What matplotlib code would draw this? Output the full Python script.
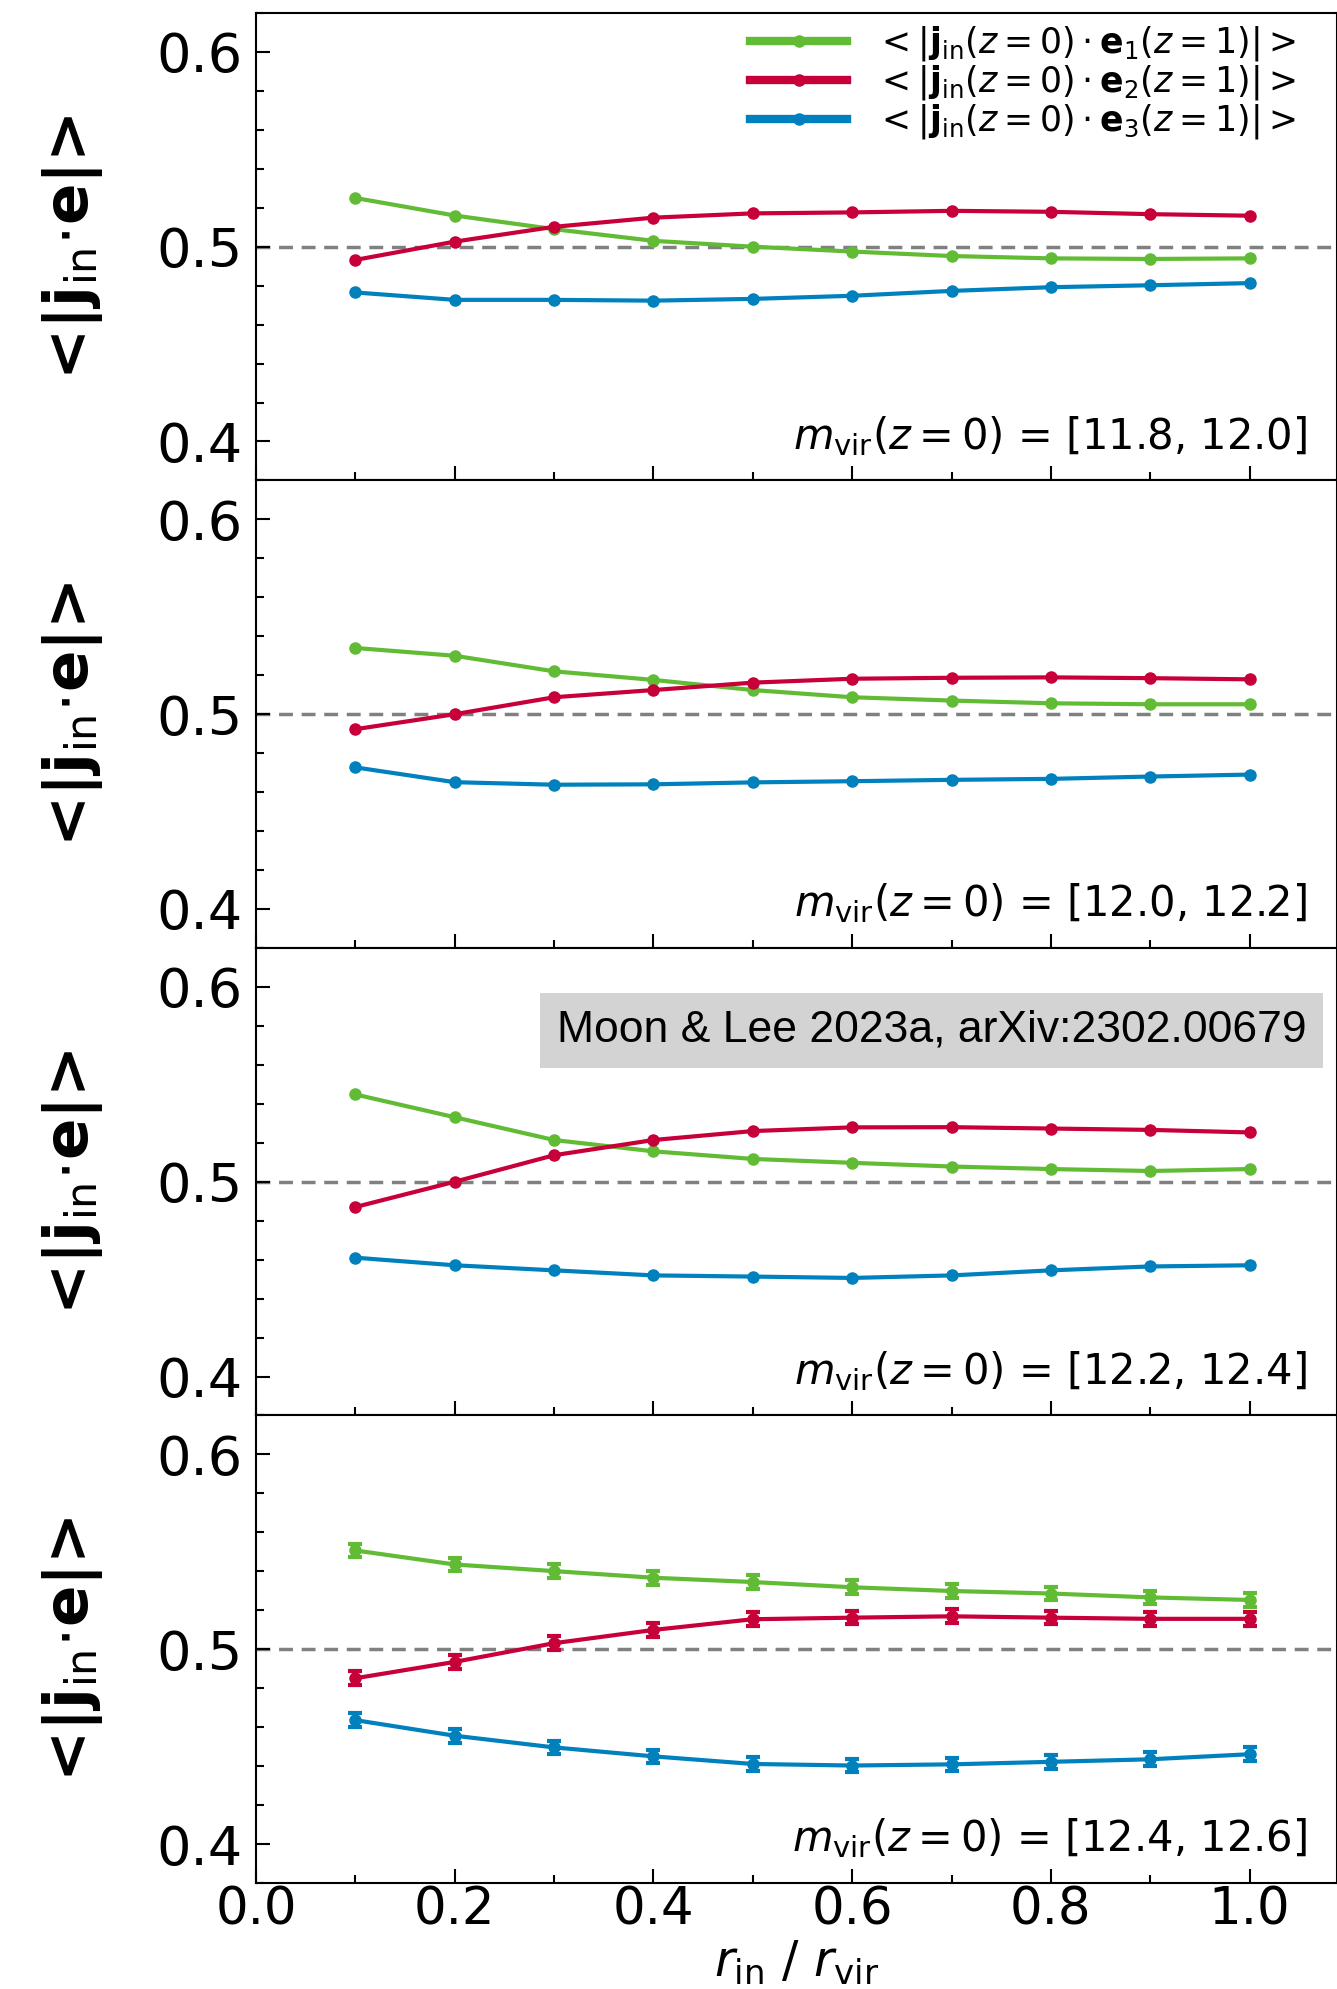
import numpy as np
import matplotlib
matplotlib.use("Agg")
import matplotlib.pyplot as plt
from matplotlib.lines import Line2D
from matplotlib.ticker import MultipleLocator

# radial bins r_in / r_vir
r = [0.1, 0.2, 0.3, 0.4, 0.5, 0.6, 0.7, 0.8, 0.9, 1.0]

mass_bins = ["[11.8, 12.0]", "[12.0, 12.2]", "[12.2, 12.4]", "[12.4, 12.6]"]

e1 = [
    [0.525, 0.516, 0.509, 0.503, 0.500, 0.4975, 0.4952, 0.494, 0.4937, 0.494],
    [0.534, 0.530, 0.522, 0.5176, 0.5124, 0.5087, 0.507, 0.5056, 0.5051, 0.5051],
    [0.5448, 0.5331, 0.5214, 0.5156, 0.5117, 0.5097, 0.5078, 0.5065, 0.5055, 0.5065],
    [0.5507, 0.5435, 0.5401, 0.5367, 0.5345, 0.5318, 0.5299, 0.5286, 0.5266, 0.5253],
]
e2 = [
    [0.4932, 0.5026, 0.5102, 0.5149, 0.5171, 0.5176, 0.5184, 0.5179, 0.5167, 0.5159],
    [0.4923, 0.500, 0.5087, 0.5124, 0.5162, 0.5182, 0.5187, 0.5189, 0.5185, 0.5179],
    [0.487, 0.500, 0.5136, 0.5214, 0.526, 0.5279, 0.528, 0.5273, 0.5266, 0.5253],
    [0.4851, 0.4935, 0.5031, 0.5099, 0.5154, 0.5162, 0.5169, 0.5162, 0.5156, 0.5156],
]
e3 = [
    [0.4765, 0.4727, 0.4727, 0.4723, 0.4732, 0.4748, 0.4773, 0.4792, 0.4802, 0.4813],
    [0.4727, 0.4651, 0.4638, 0.464, 0.465, 0.4656, 0.4663, 0.4668, 0.468, 0.469],
    [0.461, 0.4571, 0.4545, 0.4519, 0.4513, 0.4506, 0.4519, 0.4545, 0.4565, 0.4571],
    [0.4636, 0.4556, 0.4496, 0.445, 0.4411, 0.4403, 0.4409, 0.4422, 0.4435, 0.4461],
]
# error bar half-widths per mass bin
err = [0.0008, 0.0012, 0.002, 0.0035]

colors = ["#62bb35", "#c70039", "#0081bd"]
labels = [
    r"$<|\mathbf{j}_{\rm in}(z=0)\cdot\mathbf{e}_1(z=1)|>$",
    r"$<|\mathbf{j}_{\rm in}(z=0)\cdot\mathbf{e}_2(z=1)|>$",
    r"$<|\mathbf{j}_{\rm in}(z=0)\cdot\mathbf{e}_3(z=1)|>$",
]

fig, axes = plt.subplots(4, 1, figsize=(13.37, 19.89), dpi=100, sharex=True)
fig.subplots_adjust(left=0.1915, right=1.0, bottom=0.0533, top=0.9935, hspace=0)

for i, ax in enumerate(axes):
    for series, c in zip((e1[i], e2[i], e3[i]), colors):
        ax.errorbar(r, series, yerr=err[i], color=c, marker="o", ms=8, lw=3,
                    elinewidth=3, capsize=5 if i == 3 else 0, capthick=3)
    ax.axhline(0.5, color="gray", ls=(0, (4, 2.5)), lw=2.5, zorder=0)
    ax.set_xlim(0, 1.088)
    ax.set_ylim(0.38, 0.62)
    ax.yaxis.set_major_locator(MultipleLocator(0.1))
    ax.yaxis.set_minor_locator(MultipleLocator(0.02))
    ax.xaxis.set_major_locator(MultipleLocator(0.2))
    ax.xaxis.set_minor_locator(MultipleLocator(0.1))
    ax.tick_params(which="both", direction="in", labelsize=39, pad=10)
    ax.tick_params(axis="x", pad=2, labelsize=37)
    ax.tick_params(which="major", length=10, width=1.5)
    ax.tick_params(which="minor", length=6, width=1.5)
    ax.set_yticks([0.4, 0.5, 0.6])
    ax.set_yticklabels(["0.4", "0.5", "0.6"])
    for s in ax.spines.values():
        s.set_linewidth(1.5)
    ax.set_ylabel(r"<|$\mathbf{j}_{\rm in}$$\cdot$$\mathbf{e}$|>", fontsize=44,
                  fontweight="bold")
    ax.yaxis.set_label_coords(-0.14, 0.5)
    ax.text(0.972, 0.095, r"$m_{\rm vir}(z=0)$ = " + mass_bins[i], transform=ax.transAxes,
            ha="right", va="center", fontsize=30)

handles = [Line2D([], [], color=c, marker="o", ms=8, lw=6) for c in colors]
axes[0].legend(handles, labels, loc="upper right", frameon=False, fontsize=25,
               handlelength=2.8, borderaxespad=0.0, labelspacing=0.0,
               bbox_to_anchor=(0.975, 1.005))

axes[2].text(0.625, 0.824, "Moon & Lee 2023a, arXiv:2302.00679", transform=axes[2].transAxes,
             ha="center", va="center", fontsize=32,
             family=["Liberation Sans Narrow", "Liberation Sans", "DejaVu Sans"],
             bbox=dict(facecolor="#d3d3d3", edgecolor="none", pad=12))

axes[3].set_xticks([0.0, 0.2, 0.4, 0.6, 0.8, 1.0])
axes[3].set_xticklabels(["0.0", "0.2", "0.4", "0.6", "0.8", "1.0"])
axes[3].set_xlabel(r"$r_{\rm in}$ / $r_{\rm vir}$", fontsize=35)
axes[3].xaxis.set_label_coords(0.5, -0.222)
axes[3].xaxis.label.set_va("bottom")

fig.savefig("out.png", dpi=100)
